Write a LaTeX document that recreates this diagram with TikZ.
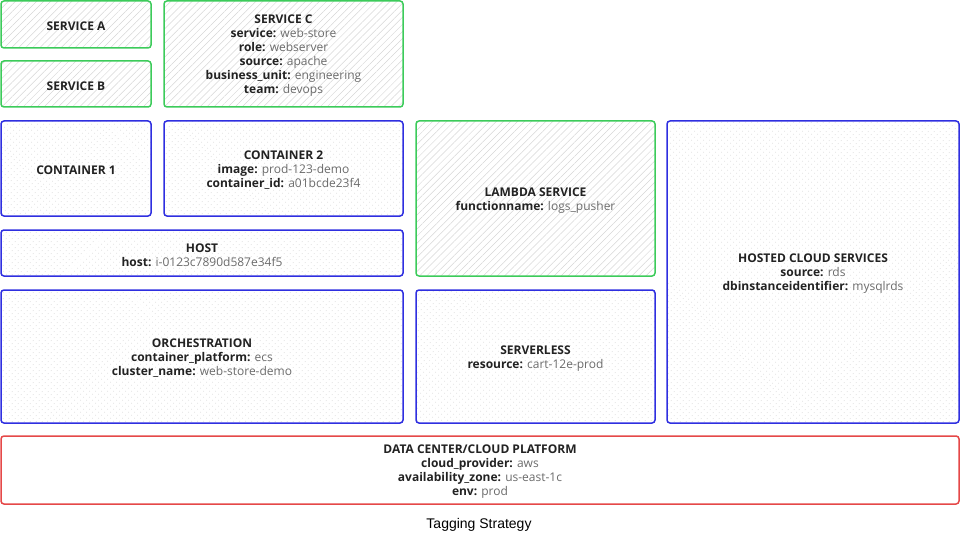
\documentclass[tikz,border=0pt]{standalone}
\usepackage{fontspec}
\setmainfont{Open Sans}
\newfontfamily\titlefont{Liberation Sans}
\usetikzlibrary{patterns.meta}
\definecolor{gr}{HTML}{3CCB5A}
\definecolor{bl}{HTML}{2F2FE0}
\definecolor{rd}{HTML}{E54848}
\definecolor{lab}{HTML}{222222}
\definecolor{val}{HTML}{6B6B6B}
\definecolor{hatchc}{HTML}{D6D6D6}
\definecolor{dotc}{HTML}{DADADA}
\newcommand{\kv}[2]{\textbf{#1:} \textcolor{val}{#2}}
\begin{document}
\begin{tikzpicture}[x=1pt,y=-1pt,
 box/.style={draw, line width=1.5pt, rounded corners=3pt, inner sep=0pt, outer sep=0pt},
 txt/.style={align=center, inner sep=0pt, font=\fontsize{12}{14}\selectfont, text=lab, yshift=-2pt},
 greenbox/.style={box, draw=gr, pattern={Lines[angle=45,distance=5pt,line width=0.5pt]}, pattern color=hatchc},
 bluebox/.style={box, draw=bl, pattern={Dots[radius=0.55pt,distance=4pt,angle=45]}, pattern color=dotc},
 redbox/.style={box, draw=rd, fill=white}]
\useasboundingbox (0,0) rectangle (960,540);
\node[greenbox, minimum width=150pt, minimum height=47pt] (sa) at (76,24.5) {};
\node[txt] (saT) at (sa.center) {\textbf{SERVICE A}};
\node[greenbox, minimum width=150pt, minimum height=46pt] (sb) at (76,84) {};
\node[txt] (sbT) at (sb.center) {\textbf{SERVICE B}};
\node[greenbox, minimum width=239pt, minimum height=106pt] (sc) at (283.5,54) {};
\node[txt] (scT) at (sc.center) {\textbf{SERVICE C}\\\kv{service}{web-store}\\\kv{role}{webserver}\\\kv{source}{apache}\\\kv{business\_unit}{engineering}\\\kv{team}{devops}};
\node[bluebox, minimum width=150pt, minimum height=95pt] (c1) at (76,168.5) {};
\node[txt] (c1T) at (c1.center) {\textbf{CONTAINER 1}};
\node[bluebox, minimum width=239pt, minimum height=95pt] (c2) at (283.5,168.5) {};
\node[txt] (c2T) at (c2.center) {\textbf{CONTAINER 2}\\\kv{image}{prod-123-demo}\\\kv{container\_id}{a01bcde23f4}};
\node[bluebox, minimum width=402pt, minimum height=46pt] (host) at (202,253) {};
\node[txt] (hostT) at (host.center) {\textbf{HOST}\\\kv{host}{i-0123c7890d587e34f5}};
\node[bluebox, minimum width=402pt, minimum height=133pt] (orch) at (202,356.5) {};
\node[txt] (orchT) at (orch.center) {\textbf{ORCHESTRATION}\\\kv{container\_platform}{ecs}\\\kv{cluster\_name}{web-store-demo}};
\node[greenbox, minimum width=239pt, minimum height=155pt] (lam) at (535.5,198.5) {};
\node[txt] (lamT) at (lam.center) {\textbf{LAMBDA SERVICE}\\\kv{functionname}{logs\_pusher}};
\node[bluebox, minimum width=239pt, minimum height=133pt] (sls) at (535.5,356.5) {};
\node[txt] (slsT) at (sls.center) {\textbf{SERVERLESS}\\\kv{resource}{cart-12e-prod}};
\node[bluebox, minimum width=292pt, minimum height=302pt] (hcs) at (813,272) {};
\node[txt] (hcsT) at (hcs.center) {\textbf{HOSTED CLOUD SERVICES}\\\kv{source}{rds}\\\kv{dbinstanceidentifier}{mysqlrds}};
\node[redbox, minimum width=958pt, minimum height=68pt] (dc) at (480,470) {};
\node[txt] (dcT) at (dc.center) {\textbf{DATA CENTER/CLOUD PLATFORM}\\\kv{cloud\_provider}{aws}\\\kv{availability\_zone}{us-east-1c}\\\kv{env}{prod}};
\node[font=\titlefont\fontsize{14}{16}\selectfont, inner sep=0pt] (title) at (479,525) {Tagging Strategy};
\end{tikzpicture}
\end{document}
